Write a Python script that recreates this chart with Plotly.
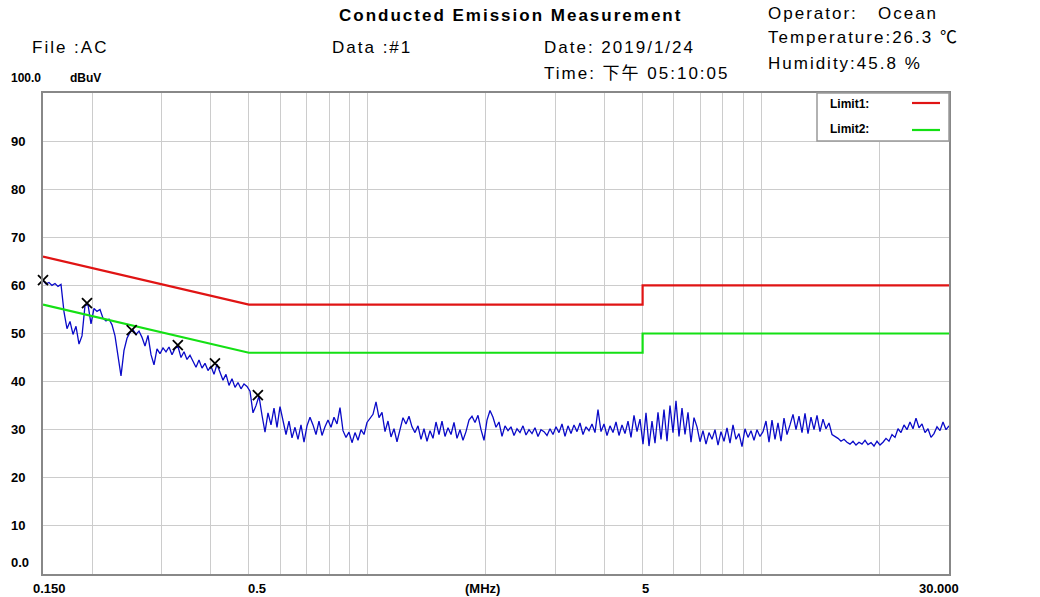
import numpy as np
import plotly.graph_objects as go

# ---------------- data ----------------
FREQ_START_MHZ = 0.15
FREQ_STOP_MHZ = 30.0

# measured trace (dBuV), log-swept from 0.15 MHz to 30 MHz
trace_dbuv = [
    61.0, 60.3, 60.6, 60.0, 60.4, 59.8, 60.2, 54.5, 51.0, 52.5,
    49.8, 51.5, 47.8, 49.5, 55.8, 56.0, 52.0, 55.2, 54.6, 55.0,
    53.2, 52.6, 53.0, 51.8, 49.5, 45.0, 41.2, 46.5, 49.0, 50.2,
    50.8, 49.8, 50.5, 49.2, 47.4, 49.6, 45.6, 43.5, 46.8, 45.8,
    47.0, 46.2, 47.2, 45.6, 46.9, 47.3, 45.0, 46.2, 44.6, 45.5,
    44.2, 43.0, 44.5, 42.8, 43.8, 42.3, 43.2, 41.5, 43.6, 42.0,
    40.3, 41.5, 39.2, 40.6, 38.8, 39.8, 38.5, 39.5, 39.0, 38.0,
    33.5, 35.0, 37.0, 33.0, 29.5, 33.5, 31.0, 34.5, 30.5, 34.8,
    31.5, 29.0, 31.8, 28.3, 30.5, 28.0, 31.0, 27.4, 30.8, 32.6,
    31.0, 29.0, 31.8, 28.8, 30.6, 32.0, 30.5, 32.6, 31.2, 34.6,
    29.8, 28.4, 29.5, 27.3, 29.4, 27.8, 30.0, 29.0, 31.5, 32.4,
    33.2, 35.8, 32.5, 33.6, 29.6, 31.8, 28.5, 30.2, 27.5, 30.0,
    32.5, 31.2, 32.8, 30.6, 29.4, 30.8, 28.0, 30.2, 27.6, 29.8,
    28.2, 31.6, 29.0, 31.8, 28.6, 30.4, 29.0, 31.5, 28.2, 30.0,
    27.8, 29.6, 32.0, 32.8, 31.5, 33.0, 30.0, 27.8, 32.0, 34.0,
    32.6, 30.5, 31.6, 28.6, 30.8, 29.8, 30.6, 28.8, 30.2, 29.4,
    30.8, 28.9, 30.0, 29.2, 30.4, 28.6, 30.0, 29.6, 28.8, 30.2,
    29.0, 30.6, 29.4, 31.2, 28.6, 30.8, 29.2, 31.0, 29.6, 31.4,
    29.0, 30.6, 29.8, 31.2, 29.4, 34.2, 29.6, 31.2, 28.8, 30.8,
    29.4, 31.6, 28.8, 31.0, 29.2, 31.8, 28.4, 33.0, 29.6, 32.2,
    27.0, 33.5, 26.6, 31.8, 27.2, 33.6, 28.0, 34.2, 27.6, 35.0,
    29.4, 36.0, 28.6, 34.5, 29.0, 33.6, 27.4, 32.5, 30.6, 27.5,
    29.8, 27.0, 29.4, 28.0, 30.0, 26.8, 29.6, 27.6, 30.4, 27.2,
    31.0, 28.0, 29.2, 26.5, 30.2, 28.4, 29.8, 27.8, 30.0, 28.6,
    29.6, 31.8, 27.4, 32.0, 28.0, 31.4, 27.6, 32.4, 29.0, 31.0,
    33.2, 30.0, 32.8, 29.4, 33.4, 29.2, 32.6, 30.0, 33.0, 29.6,
    32.2, 30.2, 31.4, 29.0, 28.6, 28.2, 27.6, 28.0, 27.4, 27.0,
    27.6, 26.8, 27.4, 27.0, 27.8, 26.9, 27.3, 26.6, 27.6, 26.8,
    27.4, 28.2, 27.6, 29.0, 28.4, 30.2, 29.4, 31.0, 30.0, 31.6,
    30.2, 32.4, 30.4, 31.2, 29.4, 30.2, 28.4, 29.2, 30.6, 29.8,
    31.6, 30.0, 30.8,
]
freq_mhz = np.geomspace(FREQ_START_MHZ, FREQ_STOP_MHZ, len(trace_dbuv))

limit1_freq = [0.15, 0.5, 5.0, 5.0, 30.0]
limit1_dbuv = [66.0, 56.0, 56.0, 60.0, 60.0]
limit2_freq = [0.15, 0.5, 5.0, 5.0, 30.0]
limit2_dbuv = [56.0, 46.0, 46.0, 50.0, 50.0]

marker_freq = [0.150, 0.194, 0.252, 0.330, 0.410, 0.527]
marker_dbuv = [61.1, 56.3, 50.7, 47.6, 43.8, 37.2]

x_grid_vals = [0.2, 0.3, 0.4, 0.5, 0.6, 0.7, 0.8, 0.9, 1, 2, 3, 4, 5, 6, 7, 8, 9, 10, 20]
x_label_vals = [0.15, 0.5, 5.0, 30.0]
x_label_text = ["0.150", "0.5", "5", "30.000"]
y_tick_vals = [10, 20, 30, 40, 50, 60, 70, 80, 90]
y_tick_text = ["10", "20", "30", "40", "50", "60", "70", "80", "90"]

# ---------------- layout helpers (pixel -> paper) ----------------
L, R, T, B = 43, 949, 93, 574
W, H = 1040, 597
def px(p):
    return (p - L) / (R - L)
def py(p):
    return (B - p) / (B - T)

HEAD_FONT = "Liberation Sans, Arial, Noto Sans CJK SC, sans-serif"
TICK_FONT = "Liberation Sans Narrow, Arial Narrow, Liberation Sans, Arial, sans-serif"

fig = go.Figure()
fig.add_trace(go.Scatter(x=freq_mhz, y=trace_dbuv, mode="lines",
                         line=dict(color="#0A0AC8", width=1.3), showlegend=False))
fig.add_trace(go.Scatter(x=limit1_freq, y=limit1_dbuv, mode="lines",
                         line=dict(color="#E01414", width=2.2), showlegend=False))
fig.add_trace(go.Scatter(x=limit2_freq, y=limit2_dbuv, mode="lines",
                         line=dict(color="#14E014", width=2.2), showlegend=False))
fig.add_trace(go.Scatter(x=marker_freq, y=marker_dbuv, mode="markers", cliponaxis=False,
                         marker=dict(symbol="x-thin", size=10, line=dict(color="black", width=1.8)),
                         showlegend=False))

fig.update_layout(
    width=W, height=H,
    margin=dict(l=L, r=W - R, t=T, b=H - B),
    paper_bgcolor="white", plot_bgcolor="white",
    xaxis=dict(type="log", range=[np.log10(FREQ_START_MHZ), np.log10(FREQ_STOP_MHZ)],
               tickvals=x_grid_vals, showticklabels=False, ticks="",
               showgrid=True, gridcolor="#CCCCCC", gridwidth=1,
               showline=True, linecolor="#888888", linewidth=2, mirror=True, zeroline=False),
    yaxis=dict(range=[0, 100], tickvals=y_tick_vals, showticklabels=False, ticks="",
               showgrid=True, gridcolor="#CCCCCC", gridwidth=1,
               showline=True, linecolor="#888888", linewidth=2, mirror=True, zeroline=False),
)

ann = []
# y tick labels
for v, t in zip(y_tick_vals, y_tick_text):
    ann.append(dict(x=px(9), y=v, xref="paper", yref="y", text=t, showarrow=False,
                    xanchor="left", yanchor="middle",
                    font=dict(family=TICK_FONT, size=13, color="black", weight="bold")))
ann.append(dict(x=px(9), y=0, xref="paper", yref="y", yshift=12, text="0.0", showarrow=False,
                xanchor="left", yanchor="middle",
                font=dict(family=TICK_FONT, size=13, color="black", weight="bold")))
ann.append(dict(x=px(9), y=100, xref="paper", yref="y", yshift=15, text="100.0", showarrow=False,
                xanchor="left", yanchor="middle",
                font=dict(family=TICK_FONT, size=12, color="black", weight="bold")))
ann.append(dict(x=px(68), y=100, xref="paper", yref="y", yshift=15, text="dBuV", showarrow=False,
                xanchor="left", yanchor="middle",
                font=dict(family=TICK_FONT, size=12, color="black", weight="bold")))

# x tick labels
x_shift = {"0.150": 6, "0.5": 8, "5": 3, "30.000": -10}
for v, t in zip(x_label_vals, x_label_text):
    ann.append(dict(x=np.log10(v), y=0, xref="x", yref="y", yshift=-14, xshift=x_shift[t],
                    text=t, showarrow=False, xanchor="center", yanchor="middle",
                    font=dict(family=TICK_FONT, size=13, color="black", weight="bold")))
ann.append(dict(x=px(482), y=0, xref="paper", yref="y", yshift=-14, text="(MHz)", showarrow=False,
                xanchor="center", yanchor="middle",
                font=dict(family=TICK_FONT, size=13, color="black", weight="bold")))

# header texts
def head(x, y, text, bold=False):
    ann.append(dict(x=px(x), y=py(y), xref="paper", yref="paper", text=text, showarrow=False,
                    xanchor="left", yanchor="middle",
                    font=dict(family=HEAD_FONT, size=17, color="black",
                              weight="bold" if bold else "normal")))

head(337, 15, "Conducted Emission Measurement", bold=True)
head(30, 47, "File :AC")
head(330, 47, "Data :#1")
head(542, 47, "Date: 2019/1/24")
head(542, 73, "Time: 下午 05:10:05")
head(766, 13, "Operator:   Ocean")
head(766, 38, "Temperature:26.3 ℃")
head(766, 63, "Humidity:45.8 %")

# legend box
ann.append(dict(x=px(828), y=py(104), xref="paper", yref="paper", text="Limit1:", showarrow=False,
                xanchor="left", yanchor="middle",
                font=dict(family=TICK_FONT, size=12, color="black", weight="bold")))
ann.append(dict(x=px(828), y=py(129), xref="paper", yref="paper", text="Limit2:", showarrow=False,
                xanchor="left", yanchor="middle",
                font=dict(family=TICK_FONT, size=12, color="black", weight="bold")))
fig.update_layout(annotations=ann)

fig.add_shape(type="rect", xref="paper", yref="paper", x0=px(817), x1=1, y0=py(141), y1=1,
              fillcolor="white", line=dict(color="#999999", width=1.5), layer="above")
fig.add_shape(type="line", xref="paper", yref="paper", x0=px(912), x1=px(940), y0=py(103), y1=py(103),
              line=dict(color="#E01414", width=2.2), layer="above")
fig.add_shape(type="line", xref="paper", yref="paper", x0=px(912), x1=px(940), y0=py(130), y1=py(130),
              line=dict(color="#14E014", width=2.2), layer="above")

post = """
document.body.style.margin = '0';
document.body.style.padding = '0';
document.body.style.overflow = 'hidden';
var gd = document.getElementById('{plot_id}');
var texts = gd.querySelectorAll('text.annotation-text');
texts.forEach(function(t){
  if (t.style.fontSize !== '17px') return;
  var b0 = t.getBBox();
  t.style.letterSpacing = '2px';
  var b1 = t.getBBox();
  var x = parseFloat(t.getAttribute('x')) || 0;
  t.setAttribute('x', x + (b0.x - b1.x));
});
"""
fig.write_html("out.html", post_script=post, config={"displayModeBar": False})
